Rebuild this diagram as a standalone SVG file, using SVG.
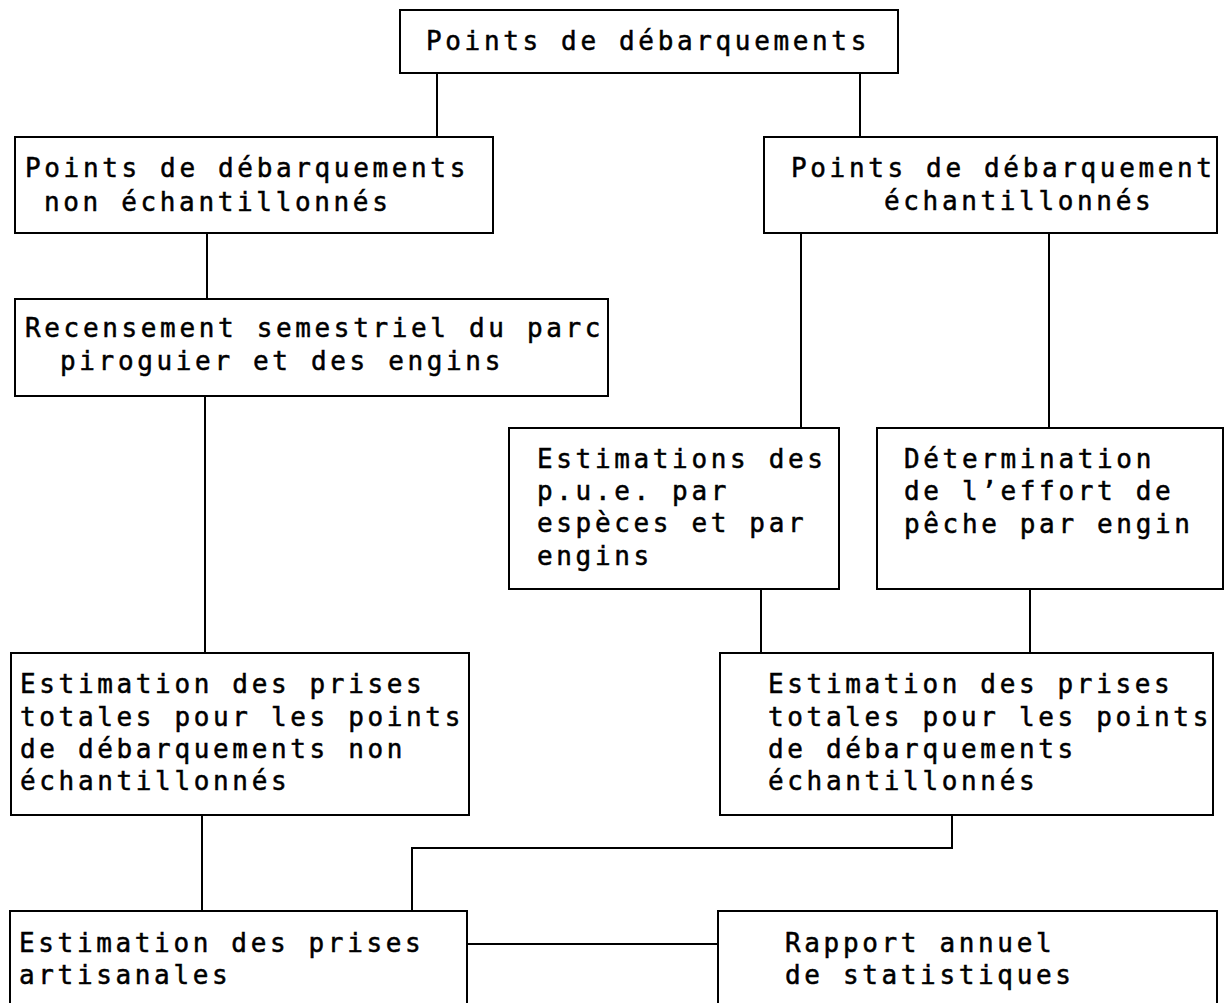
<svg xmlns="http://www.w3.org/2000/svg" width="1229" height="1003" viewBox="0 0 1229 1003">
<style>
.box{fill:#fff;stroke:#000;stroke-width:2}
.c{fill:none;stroke:#000;stroke-width:2}
text{font-family:"DejaVu Sans Mono","Liberation Mono",monospace;font-size:26px;letter-spacing:3.65px;fill:#000;stroke:#000;stroke-width:0.5}
</style>
<rect width="1229" height="1003" fill="#fff"/>
<g id="connectors">
<path class="c" d="M437 73V137M860 73V137"/>
<path class="c" d="M207 233V299"/>
<path class="c" d="M205 396V653"/>
<path class="c" d="M202 815V911"/>
<path class="c" d="M801 233V428M1049 233V428"/>
<path class="c" d="M761 589V653M1030 589V653"/>
<path class="c" d="M952 815V848H412V911"/>
<path class="c" d="M467 944H718"/>
</g>
<g id="n-top"><rect class="box" x="400" y="10" width="498" height="63"/><text x="426" y="50">Points de débarquements</text></g>
<g id="n-nonech"><rect class="box" x="15" y="137" width="478" height="96"/><text x="25" y="177">Points de débarquements</text><text x="44" y="211">non échantillonnés</text></g>
<g id="n-ech"><rect class="box" x="764" y="137" width="453" height="96"/><text x="791" y="177">Points de débarquement</text><text x="884" y="210">échantillonnés</text></g>
<g id="n-recens"><rect class="box" x="15" y="299" width="593" height="97"/><text x="25" y="337">Recensement semestriel du parc</text><text x="60" y="370">piroguier et des engins</text></g>
<g id="n-pue"><rect class="box" x="509" y="428" width="330" height="161"/><text x="537" y="468">Estimations des</text><text x="537" y="500">p.u.e. par</text><text x="537" y="532">espèces et par</text><text x="537" y="565">engins</text></g>
<g id="n-effort"><rect class="box" x="877" y="428" width="346" height="161"/><text x="904" y="468">Détermination</text><text x="904" y="500">de l’effort de</text><text x="904" y="533">pêche par engin</text></g>
<g id="n-est-non"><rect class="box" x="11" y="653" width="458" height="162"/><text x="20" y="693">Estimation des prises</text><text x="20" y="726">totales pour les points</text><text x="20" y="758">de débarquements non</text><text x="20" y="790">échantillonnés</text></g>
<g id="n-est-ech"><rect class="box" x="720" y="653" width="493" height="162"/><text x="768" y="693">Estimation des prises</text><text x="768" y="726">totales pour les points</text><text x="768" y="758">de débarquements</text><text x="768" y="790">échantillonnés</text></g>
<g id="n-artisanal"><rect class="box" x="10" y="911" width="457" height="110"/><text x="19" y="952">Estimation des prises</text><text x="19" y="984">artisanales</text></g>
<g id="n-rapport"><rect class="box" x="718" y="911" width="499" height="110"/><text x="785" y="952">Rapport annuel</text><text x="785" y="984">de statistiques</text></g>
</svg>
